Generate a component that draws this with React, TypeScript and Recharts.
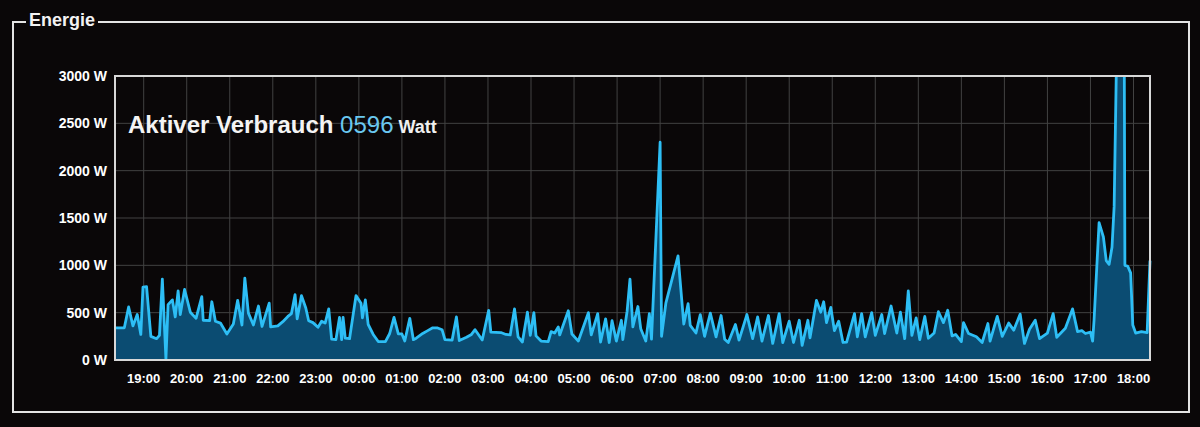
import React from 'react';
import { AreaChart, Area, XAxis, YAxis, CartesianGrid, ReferenceArea } from 'recharts';

const FONT = '"Liberation Sans", Arial, Helvetica, sans-serif';

// Sample times (HH:MM), from 18:20 one day to 18:23 the next day
const times: string[] = [
  '18:20','18:33','18:39','18:45','18:51','18:56','18:59','19:04','19:10','19:18','19:22','19:26','19:31','19:34','19:40','19:44','19:48','19:51','19:57',
  '20:05','20:13','20:21','20:23','20:32','20:35','20:40','20:47','20:56',
  '21:05','21:11','21:17','21:21','21:26','21:33','21:40','21:45','21:55','21:57',
  '22:07','22:14','22:21','22:26','22:31','22:34','22:40','22:46','22:50','22:56',
  '23:03','23:08','23:13','23:18','23:22','23:28','23:33','23:36','23:38','23:41','23:47','23:56',
  '00:03','00:05','00:09','00:13','00:20','00:27','00:37','00:43','00:49','00:55',
  '01:00','01:04','01:11','01:16','01:20','01:29','01:36','01:43','01:49','01:56',
  '02:00','02:10','02:16','02:20','02:30','02:37','02:42','02:52',
  '03:01','03:04','03:18','03:25','03:31','03:37','03:42','03:48','03:55','03:59',
  '04:04','04:07','04:14','04:24','04:28','04:33','04:38','04:40','04:52','04:57',
  '05:06','05:20','05:24','05:33','05:37','05:44','05:49','05:53','05:59',
  '06:06','06:08','06:14','06:18','06:22','06:29','06:33','06:40','06:45','06:48','07:00',
  '07:02','07:08','07:25','07:33','07:39','07:42','07:50','07:56',
  '08:02','08:10','08:18','08:25','08:30','08:35','08:45','08:50',
  '09:01','09:09','09:16','09:22','09:31','09:37','09:46','09:51',
  '10:00','10:06','10:14','10:18','10:26','10:29','10:38','10:44','10:48','10:52','10:58',
  '11:03','11:09','11:15','11:20','11:31','11:35','11:41','11:46','11:55',
  '12:00','12:09','12:13','12:22','12:30','12:35','12:41','12:46','12:51','12:57',
  '13:02','13:09','13:14','13:22','13:28','13:35','13:41','13:47','13:52',
  '14:00','14:03','14:10','14:21','14:29','14:37','14:40','14:50','14:57',
  '15:06','15:13','15:22','15:28','15:35','15:43','15:49',
  '16:00','16:08','16:13','16:25','16:35','16:42','16:48','16:53',
  '17:00','17:03','17:05','17:12','17:18','17:22','17:26','17:30','17:33','17:37','17:42','17:47','17:48','17:52','17:56','17:59',
  '18:03','18:11','18:19','18:23',
];

// Active consumption in watts at each sample time
const watts: number[] = [
  340,340,560,360,480,270,770,775,250,225,260,855,10,585,635,455,730,480,745,
  505,440,670,420,415,615,410,390,275,
  380,630,370,865,495,370,570,355,600,350,
  360,405,460,490,690,435,680,550,415,395,
  345,410,390,540,220,215,450,215,450,230,225,680,
  600,445,635,375,270,195,195,280,450,275,
  275,200,440,215,230,280,310,340,340,320,
  215,210,455,205,240,270,320,212,
  525,295,290,270,265,540,245,190,505,260,
  500,255,200,195,300,285,350,265,520,275,
  200,500,265,490,190,435,185,415,200,
  420,215,515,855,350,565,330,200,490,220,2300,
  250,600,1100,380,595,365,285,480,
  250,495,245,470,220,185,375,210,
  480,225,455,200,470,175,490,185,
  410,185,420,155,420,235,630,505,615,395,555,
  310,410,185,190,490,245,490,245,500,
  260,480,280,570,285,505,225,730,260,445,
  215,460,230,285,510,395,525,255,270,
  195,395,280,245,185,385,200,460,250,
  390,315,485,175,325,420,225,
  285,490,240,335,540,300,310,280,
  295,200,420,1450,1300,1050,1010,1190,1620,3500,3800,3500,1000,990,920,370,
  285,300,290,1050,
];

const hourLabels: string[] = [
  '19:00','20:00','21:00','22:00','23:00','00:00','01:00','02:00','03:00','04:00','05:00','06:00',
  '07:00','08:00','09:00','10:00','11:00','12:00','13:00','14:00','15:00','16:00','17:00','18:00',
];

const yTicks: number[] = [0, 500, 1000, 1500, 2000, 2500, 3000];

const titleText = 'Aktiver Verbrauch';
const currentValue = '0596';
const unitText = 'Watt';
const panelTitle = 'Energie';

// convert HH:MM strings to continuous minutes, rolling over past midnight
function toMinutes(list: string[]): number[] {
  const out: number[] = [];
  let offset = 0;
  let prev = -1;
  for (const s of list) {
    const [h, m] = s.split(':').map(Number);
    const raw = h * 60 + m;
    if (prev >= 0 && raw < prev) offset += 1440;
    prev = raw;
    out.push(raw + offset);
  }
  return out;
}

const minutes = toMinutes(times);
const data = minutes.map((t, i) => ({ t, w: watts[i] }));
const hourTicks = toMinutes(['18:20', ...hourLabels]).slice(1);
const T0 = minutes[0];
const T1 = minutes[minutes.length - 1];

const fmt = (v: number) => {
  const m = ((v % 1440) + 1440) % 1440;
  const h = Math.floor(m / 60);
  const mm = m % 60;
  return `${String(h).padStart(2, '0')}:${String(mm).padStart(2, '0')}`;
};

const BG = '#0a0708';

export default function App() {
  return (
    <div style={{ position: 'absolute', left: 0, top: 0, width: 1200, height: 427, background: BG, overflow: 'hidden', fontFamily: FONT }}>
      <div style={{ position: 'absolute', left: 12, top: 21, width: 1174, height: 388, border: '2px solid #e4e4e4' }} />
      <div style={{ position: 'absolute', left: 0, top: 0 }}>
        <AreaChart width={1200} height={427} data={data} margin={{ top: 76, right: 50, bottom: 37, left: 0 }}>
          <CartesianGrid stroke="#424242" strokeWidth={1} />
          <XAxis
            type="number"
            dataKey="t"
            domain={[T0, T1]}
            ticks={hourTicks}
            tickFormatter={fmt}
            height={30}
            axisLine={false}
            tickLine={false}
            tickSize={0}
            tickMargin={14}
            interval={0}
            tick={{ fill: '#ffffff', fontSize: 13, fontWeight: 700, fontFamily: FONT }}
          />
          <YAxis
            type="number"
            domain={[0, 3000]}
            ticks={yTicks}
            allowDataOverflow
            width={115}
            tickFormatter={(v: number) => `${v} W`}
            axisLine={false}
            tickLine={false}
            tickSize={0}
            tickMargin={8}
            interval={0}
            tick={{ fill: '#ffffff', fontSize: 14, fontWeight: 700, fontFamily: FONT }}
          />
          <Area
            type="linear"
            dataKey="w"
            stroke="#2dbef5"
            strokeWidth={2.8}
            strokeLinejoin="round"
            fill="#0b4c72"
            fillOpacity={1}
            dot={false}
            activeDot={false}
            isAnimationActive={false}
          />
          <ReferenceArea x1={T0} x2={T1} y1={0} y2={3000} fill="none" fillOpacity={0} stroke="#d8d8d8" strokeWidth={2} ifOverflow="visible" />
        </AreaChart>
      </div>
      <div style={{ position: 'absolute', left: 26, top: 9, padding: '0 3px', background: BG, color: '#f2f2f2', fontSize: 18, fontWeight: 700, lineHeight: '22px' }}>
        {panelTitle}
      </div>
      <div style={{ position: 'absolute', left: 128, top: 110, whiteSpace: 'nowrap', lineHeight: '30px' }}>
        <span style={{ color: '#f4f4f4', fontSize: 24, fontWeight: 700 }}>{titleText}</span>
        <span style={{ color: '#6ac8f0', fontSize: 24, fontWeight: 400 }}> {currentValue}</span>
        <span style={{ color: '#f0f0f0', fontSize: 18, fontWeight: 700 }}> {unitText}</span>
      </div>
    </div>
  );
}
